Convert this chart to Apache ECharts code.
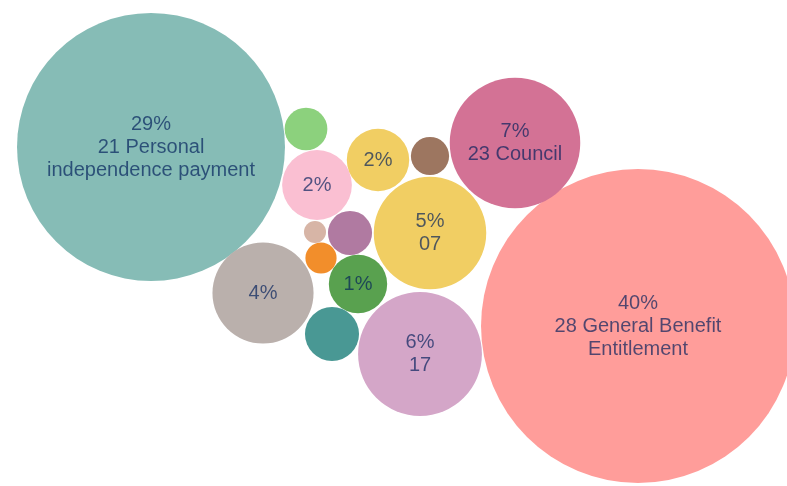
<!DOCTYPE html>
<html>
<head>
<meta charset="utf-8">
<script src="https://cdn.jsdelivr.net/npm/echarts@6/dist/echarts.min.js"></script>
<style>html,body{margin:0;padding:0;background:#fff}#c{width:787px;height:486px}</style>
</head>
<body>
<div id="c"></div>
<script>
// Category names (label text; '\n' marks the line break used in the picture)
var categories = ['28 General Benefit\nEntitlement', '21 Personal\nindependence payment', '23 Council', '17', '07',
  '', '', '', '', '', '', '', '', '', ''];
// Bubble values (counts)
var values = [405, 295, 70, 63, 52, 42, 20, 16, 14, 12, 8, 7.5, 6, 4, 2];
// Packed-layout centres (chart units, pixels of the 787x486 canvas)
var layoutX = [638, 151, 515, 420, 430, 263, 317, 378, 358, 332, 350, 306, 430, 321, 315];
var layoutY = [326, 147, 143, 354, 233, 293, 185, 160, 284, 334, 233, 129, 156, 258, 232];
var colors = ['#FF9D9A', '#86BCB6', '#D37295', '#D4A6C8', '#F1CE63', '#BAB0AC', '#FABFD2', '#F1CE63',
  '#59A14F', '#499894', '#B07AA1', '#8CD17D', '#9D7660', '#F28E2B', '#D7B5A6'];

var total = values.reduce(function (a, b) { return a + b; }, 0);
var k = 7.8; // px radius per sqrt(unit)

var data = values.map(function (v, i) {
  return {
    name: categories[i],
    value: [layoutX[i], layoutY[i], v],
    itemStyle: { color: colors[i], opacity: 1 },
    label: { show: v >= 14 }
  };
});

var chart = echarts.init(document.getElementById('c'));
chart.setOption({
  animation: false,
  grid: { left: 0, right: 0, top: 0, bottom: 0 },
  xAxis: { type: 'value', min: 0, max: 787, show: false },
  yAxis: { type: 'value', min: 0, max: 486, inverse: true, show: false },
  series: [{
    type: 'scatter',
    data: data,
    symbol: 'circle',
    symbolSize: function (val) { return 2 * k * Math.sqrt(val[2]); },
    itemStyle: { opacity: 1 },
    label: {
      position: 'inside',
      fontFamily: 'Liberation Sans, Arial, sans-serif',
      fontSize: 20,
      lineHeight: 23,
      color: 'rgba(0,30,90,0.68)',
      align: 'center',
      formatter: function (p) {
        var pct = Math.round(p.value[2] / total * 100) + '%';
        return p.name ? pct + '\n' + p.name : pct;
      }
    }
  }]
});
</script>
</body>
</html>
